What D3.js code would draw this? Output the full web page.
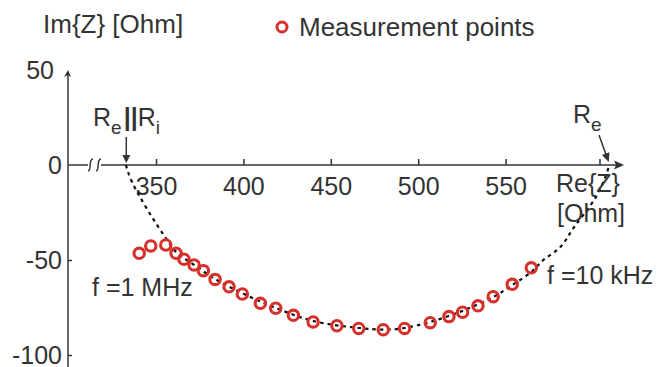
<!DOCTYPE html>
<html>
<head>
<meta charset="utf-8">
<script src="https://cdn.jsdelivr.net/npm/d3@7"></script>
<style>
  body { margin: 0; background: #fff; }
  text { font-family: "Liberation Sans", Arial, sans-serif; fill: #333; }
</style>
</head>
<body>
<svg id="chart"></svg>
<script>
const reValues = [340.4, 347.0, 355.6, 361.5, 366.0, 371.8, 377.1, 383.8, 391.8, 399.4,
  409.7, 418.5, 428.6, 439.9, 453.5, 466.0, 480.0, 492.2, 506.9, 517.6,
  525.4, 534.2, 542.9, 553.8, 564.7];
const imValues = [-46.5, -42.6, -42.1, -46.5, -49.6, -52.6, -55.6, -60.2, -64.1, -67.9,
  -72.8, -75.4, -79.1, -82.6, -84.6, -86.0, -86.7, -86.0, -83.0, -79.8,
  -77.5, -74.1, -69.3, -62.8, -54.1];

// fitted model (dashed)
const fitRe = [332.8, 334.0, 337.4, 340.8, 347.7, 355.2, 361.5, 371.8, 383.8, 399.2,
  418.7, 439.9, 466.3, 480.0, 492.0, 506.9, 525.2, 542.9, 553.8, 564.7,
  571.6, 581.3, 589.3, 601.3, 607.1, 609.3];
const fitIm = [0, -3.7, -11.1, -16.8, -27.4, -37.9, -45.8, -52.6, -60.0, -67.4,
  -75.3, -82.1, -85.8, -86.6, -85.8, -82.6, -76.8, -69.5, -63.2, -56.3,
  -50.0, -43.2, -32.6, -17.4, -6.3, 0];

const xTicks = [350, 400, 450, 500, 550];
const yTicks = [-100, -50, 0, 50];
const rParallel = 333;   // Re||Ri
const rE = 609;          // Re
const reMarkTick = 604;

const width = 659, height = 367;
const red = '#d7302a', ink = '#333';

const svg = d3.select('#chart')
  .attr('width', width)
  .attr('height', height);

const x = d3.scaleLinear().domain([350, 550]).range([156, 505.6]);
const y = d3.scaleLinear().domain([-100, 50]).range([355, 70]);

const axisX = 68;
const y0 = y(0);

// x axis ticks + labels
const gx = svg.append('g')
  .attr('transform', `translate(0,${y0})`)
  .call(d3.axisBottom(x).tickValues(xTicks).tickSizeInner(-6).tickSizeOuter(0).tickPadding(12));
gx.select('.domain').remove();
gx.selectAll('line').attr('stroke', ink).attr('stroke-width', 1.5);
gx.selectAll('text').style('font-size', '25px').attr('fill', ink);

svg.append('line')
  .attr('x1', x(reMarkTick)).attr('x2', x(reMarkTick))
  .attr('y1', y0 - 6).attr('y2', y0)
  .attr('stroke', ink).attr('stroke-width', 1.5);

// x axis line with break
svg.append('line')
  .attr('x1', axisX).attr('x2', 88).attr('y1', y0).attr('y2', y0)
  .attr('stroke', ink).attr('stroke-width', 1.5);
svg.append('line')
  .attr('x1', 101).attr('x2', 617).attr('y1', y0).attr('y2', y0)
  .attr('stroke', ink).attr('stroke-width', 1.5);
[90.5, 98.5].forEach(cx => {
  svg.append('path')
    .attr('d', `M${cx - 2.5},${y0 + 6} C${cx + 1.5},${y0 + 6} ${cx - 2.5},${y0 - 6} ${cx + 2.5},${y0 - 6}`)
    .attr('fill', 'none').attr('stroke', ink).attr('stroke-width', 1.5);
});
svg.append('path')
  .attr('d', `M624,${y0} L614,${y0 - 4.5} L616,${y0} L614,${y0 + 4.5} Z`)
  .attr('fill', ink);

// y axis
const gy = svg.append('g')
  .attr('transform', `translate(${axisX},0)`)
  .call(d3.axisLeft(y).tickValues(yTicks).tickFormat(d => String(d))
    .tickSizeInner(-4).tickSizeOuter(0).tickPadding(6));
gy.select('.domain').remove();
gy.selectAll('line').attr('stroke', ink).attr('stroke-width', 1.5);
gy.selectAll('.tick').filter(d => d >= 0).select('line').remove();
gy.selectAll('text').style('font-size', '25px').attr('fill', ink);
gy.selectAll('.tick').filter(d => d === 50).select('text').attr('dx', -8);

svg.append('line')
  .attr('x1', axisX).attr('x2', axisX).attr('y1', y(50) + 3).attr('y2', height)
  .attr('stroke', ink).attr('stroke-width', 1.5);
svg.append('path')
  .attr('d', `M${axisX},${y(50)} L${axisX - 4},${y(50) + 7} L${axisX},${y(50) + 5} L${axisX + 3},${y(50) + 7} Z`)
  .attr('fill', ink);

// fitted curve
const fitLine = d3.line()
  .x((d, i) => x(d))
  .y((d, i) => y(fitIm[i]))
  .curve(d3.curveCatmullRom);
svg.append('path')
  .attr('d', fitLine(fitRe))
  .attr('fill', 'none')
  .attr('stroke', '#111')
  .attr('stroke-width', 2.2)
  .attr('stroke-dasharray', '3.5,4');

// measurement points
svg.selectAll('circle.pt')
  .data(reValues)
  .enter()
  .append('circle')
  .attr('class', 'pt')
  .attr('cx', d => x(d))
  .attr('cy', (d, i) => y(imValues[i]))
  .attr('r', 5.2)
  .attr('fill', 'none')
  .attr('stroke', red)
  .attr('stroke-width', 3.1);

// axis titles
svg.append('text').attr('x', 43).attr('y', 33).style('font-size', '26px').text('Im{Z} [Ohm]');
svg.append('text').attr('x', 556).attr('y', 192).style('font-size', '25px').text('Re{Z}');
svg.append('text').attr('x', 557).attr('y', 222).style('font-size', '25px').text('[Ohm]');

// legend
svg.append('circle')
  .attr('cx', 282).attr('cy', 27).attr('r', 5)
  .attr('fill', 'none').attr('stroke', red).attr('stroke-width', 3);
svg.append('text').attr('x', 299).attr('y', 36).style('font-size', '26px').text('Measurement points');

// frequency labels
svg.append('text').attr('x', 92).attr('y', 296).style('font-size', '25px').text('f =1 MHz');
svg.append('text').attr('x', 547).attr('y', 284).style('font-size', '25px').text('f =10 kHz');

// Re||Ri annotation
const ann = svg.append('text').attr('x', 93).attr('y', 126).style('font-size', '25px');
ann.append('tspan').text('R');
ann.append('tspan').attr('dy', 8).style('font-size', '19px').text('e');
ann.append('tspan').attr('dy', -8).attr('dx', 2).style('font-weight', 'bold').text('||');
ann.append('tspan').text('R');
ann.append('tspan').attr('dy', 8).style('font-size', '19px').text('i');

svg.append('line')
  .attr('x1', x(rParallel)).attr('x2', x(rParallel))
  .attr('y1', 137).attr('y2', y0 - 8)
  .attr('stroke', ink).attr('stroke-width', 1.5);
svg.append('path')
  .attr('d', `M${x(rParallel)},${y0 - 2} L${x(rParallel) - 4},${y0 - 10} L${x(rParallel) + 4},${y0 - 10} Z`)
  .attr('fill', ink);

// Re annotation
const annE = svg.append('text').attr('x', 573).attr('y', 123).style('font-size', '25px');
annE.append('tspan').text('R');
annE.append('tspan').attr('dy', 8).style('font-size', '19px').text('e');

const tipX = x(rE), tipY = y0 - 3;
svg.append('line')
  .attr('x1', 599).attr('y1', 135)
  .attr('x2', tipX - 2.6).attr('y2', tipY - 7)
  .attr('stroke', ink).attr('stroke-width', 1.5);
const ang = Math.atan2(tipY - 135, tipX - 599);
const hx = tipX - 9 * Math.cos(ang), hy = tipY - 9 * Math.sin(ang);
const px = -Math.sin(ang) * 4, py = Math.cos(ang) * 4;
svg.append('path')
  .attr('d', `M${tipX},${tipY} L${hx + px},${hy + py} L${hx - px},${hy - py} Z`)
  .attr('fill', ink);
</script>
</body>
</html>
